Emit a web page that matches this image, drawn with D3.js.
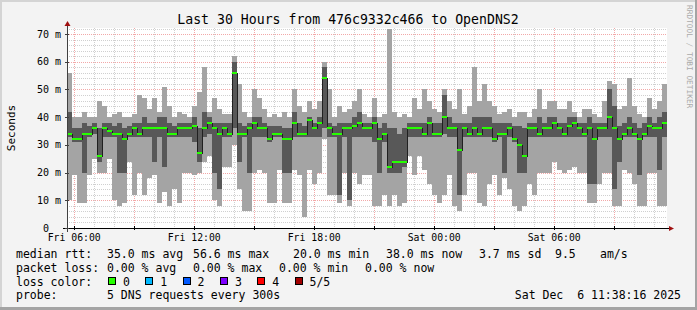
<!DOCTYPE html>
<html>
<head>
<meta charset="utf-8">
<script src="https://cdn.jsdelivr.net/npm/d3@7"></script>
<style>
  body { margin: 0; background: #f3f3f3; }
  svg { display: block; }
  text { font-family: "DejaVu Sans Mono", monospace; white-space: pre; }
</style>
</head>
<body>
<div id="chart"></div>
<script>
// 15 minute steps over the last 30 hours (5 pings per step, sorted)
let pingMin = [
  10,19,9,9,19,25,20,20,25,10,8,9,24,12,20,12,18,19,9,13,8,14,9,20,
  20,19,20,24,26,10,8,22,22,30,14,6,6,20,21,20,9,9,21,9,9,21,19,4,
  21,16,20,32,12,12,9,20,8,20,16,19,19,8,8,12,8,12,8,9,26,19,26,21,
  16,12,9,12,19,8,6,12,20,20,9,8,16,19,12,18,14,8,6,8,16,12,20,20,
  20,24,21,20,21,22,20,20,9,9,16,20,20,8,8,21,20,16,8,8,20,20,8,8];
let pingLow = [
  33,31,31,20,33,34,24,33,33,33,20,20,33,33,33,33,33,24,33,22,33,33,33,33,
  33,31,24,33,34,20,14,33,33,36,24,33,20,33,33,33,31,33,33,20,20,33,33,33,
  33,33,33,36,33,33,12,33,10,33,33,33,33,31,20,31,20,20,20,22,33,33,33,33,
  33,33,33,34,33,33,12,33,33,33,33,33,33,31,33,20,33,31,20,20,33,33,33,33,
  33,33,33,33,33,33,33,33,16,16,33,33,33,14,24,33,33,33,19,33,33,33,21,33];
let median = [
  34,32,32,34,34,36,26,36,35,34,34,32,34,36,34,36,36,36,36,36,34,34,36,36,
  36,37,27,36,38,36,34,36,34,56,34,34,36,38,36,36,32,34,34,32,32,38,34,34,
  39,36,38,54,36,34,34,36,36,37,38,36,36,38,32,34,22,24,24,24,36,36,36,34,
  38,34,34,40,36,36,28,36,34,36,34,36,36,32,34,34,36,32,30,26,36,36,34,36,
  36,38,36,34,37,38,36,34,36,32,36,36,40,36,32,34,36,34,32,34,37,36,36,38];
let pingHigh = [
  42,36,36,38,37,38,36,38,38,37,38,36,37,38,38,40,38,38,40,40,38,37,38,38,
  38,40,36,42,40,38,38,38,38,60,38,37,38,40,40,38,37,37,37,36,36,42,38,37,
  40,38,40,58,38,37,38,38,38,40,42,38,38,40,36,38,36,36,34,36,38,38,38,38,
  40,38,38,48,40,38,38,38,38,40,40,40,40,38,38,38,38,37,37,36,38,38,40,38,
  40,40,38,38,40,40,38,38,40,38,38,38,50,44,37,38,40,38,36,38,40,38,40,42];
let pingMax = [
  56,40,40,42,40,40,46,44,40,41,42,40,40,41,48,47,43,47,42,51,44,40,42,41,
  40,44,49,58,42,47,43,41,41,62,52,42,40,50,47,43,40,41,40,42,40,50,44,42,
  46,43,46,60,50,40,44,42,43,46,50,41,40,47,40,41,72,42,40,41,40,47,43,50,
  46,43,42,50,46,43,50,41,44,58,46,52,46,44,41,42,43,40,42,42,40,43,50,43,
  46,46,43,43,46,42,40,43,43,41,40,46,53,52,43,44,54,44,41,40,47,43,46,52];

let yTicks = [0, 10, 20, 30, 40, 50, 60, 70],
yTickLabels = ['0', '10 m', '20 m', '30 m', '40 m', '50 m', '60 m', '70 m'];

let lossLabels = ['0', '1', '2', '3', '4', '5/5'],
lossColors = ['#26ff00', '#00b8ff', '#0059ff', '#7e00ff', '#ff0000', '#a10000'];

let legendRows = [
  ['median rtt:', '35.0 ms avg', '56.6 ms max', '20.0 ms min', '38.0 ms now', '3.7 ms sd', '9.5', 'am/s'],
  ['packet loss:', '0.00 % avg', '0.00 % max', '0.00 % min', '0.00 % now'],
  ['loss color:'],
  ['probe:', '5 DNS requests every 300s']];
let legendX = [
  [16, 107, 193, 293, 386, 479, 555, 600],
  [16, 107, 193, 279, 365],
  [16],
  [16, 107]];

let start = new Date(2025, 11, 5, 5, 38, 16),
end = new Date(2025, 11, 6, 11, 38, 16),
times = d3.range(pingMax.length + 1).map(i => d3.timeMinute.offset(start, 15 * i));

// Canvas geometry
let W = 697, H = 310,
gLeft = 67, gRight = 667, gTop = 28, gBottom = 228;

let x = d3.scaleTime().domain([start, end]).range([gLeft, gRight]),
y = d3.scaleLinear().domain([0, 72.2]).range([gBottom, gTop]);

let svg = d3.select('#chart').
append('svg').
attr('width', W).
attr('height', H);

// Background with shaded frame
svg.append('rect').attr('width', W).attr('height', H).attr('fill', '#f3f3f3');
svg.append('rect').attr('width', W).attr('height', 2).attr('fill', '#d4d4d4');
svg.append('rect').attr('width', 2).attr('height', H).attr('fill', '#d4d4d4');
svg.append('rect').attr('y', H - 3).attr('width', W).attr('height', 3).attr('fill', '#a4a4a4');
svg.append('rect').attr('x', W - 2).attr('width', 2).attr('height', H).attr('fill', '#a4a4a4');

svg.append('rect').
attr('x', gLeft).attr('y', gTop).
attr('width', gRight - gLeft).attr('height', gBottom - gTop).
attr('fill', '#fff');

// Grid: minor every 2 ms / hour, major every 10 ms / 3 hours
let grid = svg.append('g').attr('shape-rendering', 'crispEdges');
d3.range(2, 72.2, 2).forEach(v => {
  grid.append('line').
  attr('x1', gLeft).attr('x2', gRight).
  attr('y1', Math.round(y(v)) + 0.5).attr('y2', Math.round(y(v)) + 0.5).
  attr('stroke', v % 10 === 0 ? '#f2a8a8' : '#d0d0d0').
  attr('stroke-dasharray', '1,1');
});
d3.timeHour.range(start, end).forEach(t => {
  let major = t.getHours() % 3 === 0;
  grid.append('line').
  attr('x1', Math.round(x(t)) + 0.5).attr('x2', Math.round(x(t)) + 0.5).
  attr('y1', gTop).attr('y2', gBottom).
  attr('stroke', major ? '#f2a8a8' : '#d0d0d0').
  attr('stroke-dasharray', '1,1');
});

// Smoke: outer pings light, inner pings dark
let steps = d3.range(pingMax.length),
smoke = svg.append('g').attr('shape-rendering', 'crispEdges');
smoke.selectAll('.outer').
data(steps).
enter().
append('rect').
attr('x', i => x(times[i])).
attr('width', i => x(times[i + 1]) - x(times[i])).
attr('y', i => y(pingMax[i])).
attr('height', i => y(pingMin[i]) - y(pingMax[i])).
attr('fill', '#a4a4a4');
smoke.selectAll('.inner').
data(steps).
enter().
append('rect').
attr('x', i => x(times[i])).
attr('width', i => x(times[i + 1]) - x(times[i])).
attr('y', i => y(pingHigh[i])).
attr('height', i => y(pingLow[i]) - y(pingHigh[i])).
attr('fill', '#585858');

// Median as a step line plus a loss coloured band
let medLine = d3.line().
x(d => x(d[0])).
y(d => Math.round(y(d[1])) + 0.5).
curve(d3.curveStepAfter);
svg.append('path').
datum(steps.map(i => [times[i], median[i]]).concat([[end, median[median.length - 1]]])).
attr('d', medLine).
attr('fill', 'none').
attr('stroke', '#202020').
attr('stroke-width', 1).
attr('shape-rendering', 'crispEdges');
svg.append('g').
attr('shape-rendering', 'crispEdges').
selectAll('rect').
data(steps).
enter().
append('rect').
attr('x', i => x(times[i])).
attr('width', i => x(times[i + 1]) - x(times[i])).
attr('y', i => Math.round(y(median[i])) - 1).
attr('height', 2).
attr('fill', lossColors[0]);

// Axes with arrows
let axes = svg.append('g').attr('shape-rendering', 'crispEdges');
axes.append('line').
attr('x1', gLeft + 0.5).attr('x2', gLeft + 0.5).
attr('y1', gBottom + 4).attr('y2', gTop - 4).
attr('stroke', '#404040');
axes.append('line').
attr('x1', gLeft - 4).attr('x2', gRight + 4).
attr('y1', gBottom + 0.5).attr('y2', gBottom + 0.5).
attr('stroke', '#000');
yTicks.forEach(v => {
  axes.append('line').
  attr('x1', gLeft - 2).attr('x2', gLeft + 2).
  attr('y1', Math.round(y(v)) + 0.5).attr('y2', Math.round(y(v)) + 0.5).
  attr('stroke', '#404040');
});
d3.timeHour.every(3).range(start, end).forEach(t => {
  axes.append('line').
  attr('x1', Math.round(x(t)) + 0.5).attr('x2', Math.round(x(t)) + 0.5).
  attr('y1', gBottom - 2).attr('y2', gBottom + 2).
  attr('stroke', '#000');
});
svg.append('path').
attr('d', `M${gLeft - 2.5},${gTop - 2}L${gLeft + 3.5},${gTop - 2}L${gLeft + 0.5},${gTop - 7}Z`).
attr('fill', '#a01010');
svg.append('path').
attr('d', `M${gRight + 2},${gBottom - 2}L${gRight + 2},${gBottom + 3}L${gRight + 7},${gBottom + 0.5}Z`).
attr('fill', '#a01010');

// Y tick labels (the unitless zero sits where rrdtool pads it)
svg.selectAll('.ylab').
data(yTicks).
enter().
append('text').
attr('x', (d, i) => yTickLabels[i].length < 2 ? 49 : 61).
attr('y', d => y(d) + 3.5).
attr('text-anchor', 'end').
attr('font-size', '10px').
text((d, i) => yTickLabels[i]);

// X labels every 6 hours
svg.selectAll('.xlab').
data(d3.timeHour.every(6).range(start, end)).
enter().
append('text').
attr('x', d => x(d)).
attr('y', 240.5).
attr('text-anchor', 'middle').
attr('font-size', '9.8px').
text(d => d3.timeFormat('%a %H:%M')(d));

// Title and side labels
svg.append('text').
attr('x', 348).attr('y', 24).
attr('text-anchor', 'middle').
attr('font-size', '13.2px').
text('Last 30 Hours from 476c9332c466 to OpenDNS2');
svg.append('text').
attr('transform', 'translate(15,128) rotate(-90)').
attr('text-anchor', 'middle').
attr('font-size', '11px').
text('Seconds');
svg.append('text').
attr('transform', 'translate(687,5) rotate(90)').
attr('font-size', '7.8px').
attr('fill', '#aaa').
text('RRDTOOL / TOBI OETIKER');

// Legend rows
let rowY = [258, 272, 285.6, 299.4];
legendRows.forEach((row, r) => {
  row.forEach((s, k) => {
    svg.append('text').
    attr('x', legendX[r][k]).
    attr('y', rowY[r]).
    attr('font-size', '11.5px').
    text(s);
  });
});
lossLabels.forEach((s, i) => {
  let bx = 108 + i * 37.3;
  svg.append('rect').
  attr('x', Math.round(bx) + 0.5).attr('y', 277.5).
  attr('width', 7).attr('height', 7).
  attr('fill', lossColors[i]).
  attr('stroke', '#000');
  svg.append('text').
  attr('x', bx + 15).
  attr('y', rowY[2]).
  attr('font-size', '11.5px').
  text(s);
});
svg.append('text').
attr('x', 681).attr('y', rowY[3]).
attr('text-anchor', 'end').
attr('font-size', '11.5px').
text('Sat Dec  6 11:38:16 2025');
</script>
</body>
</html>
